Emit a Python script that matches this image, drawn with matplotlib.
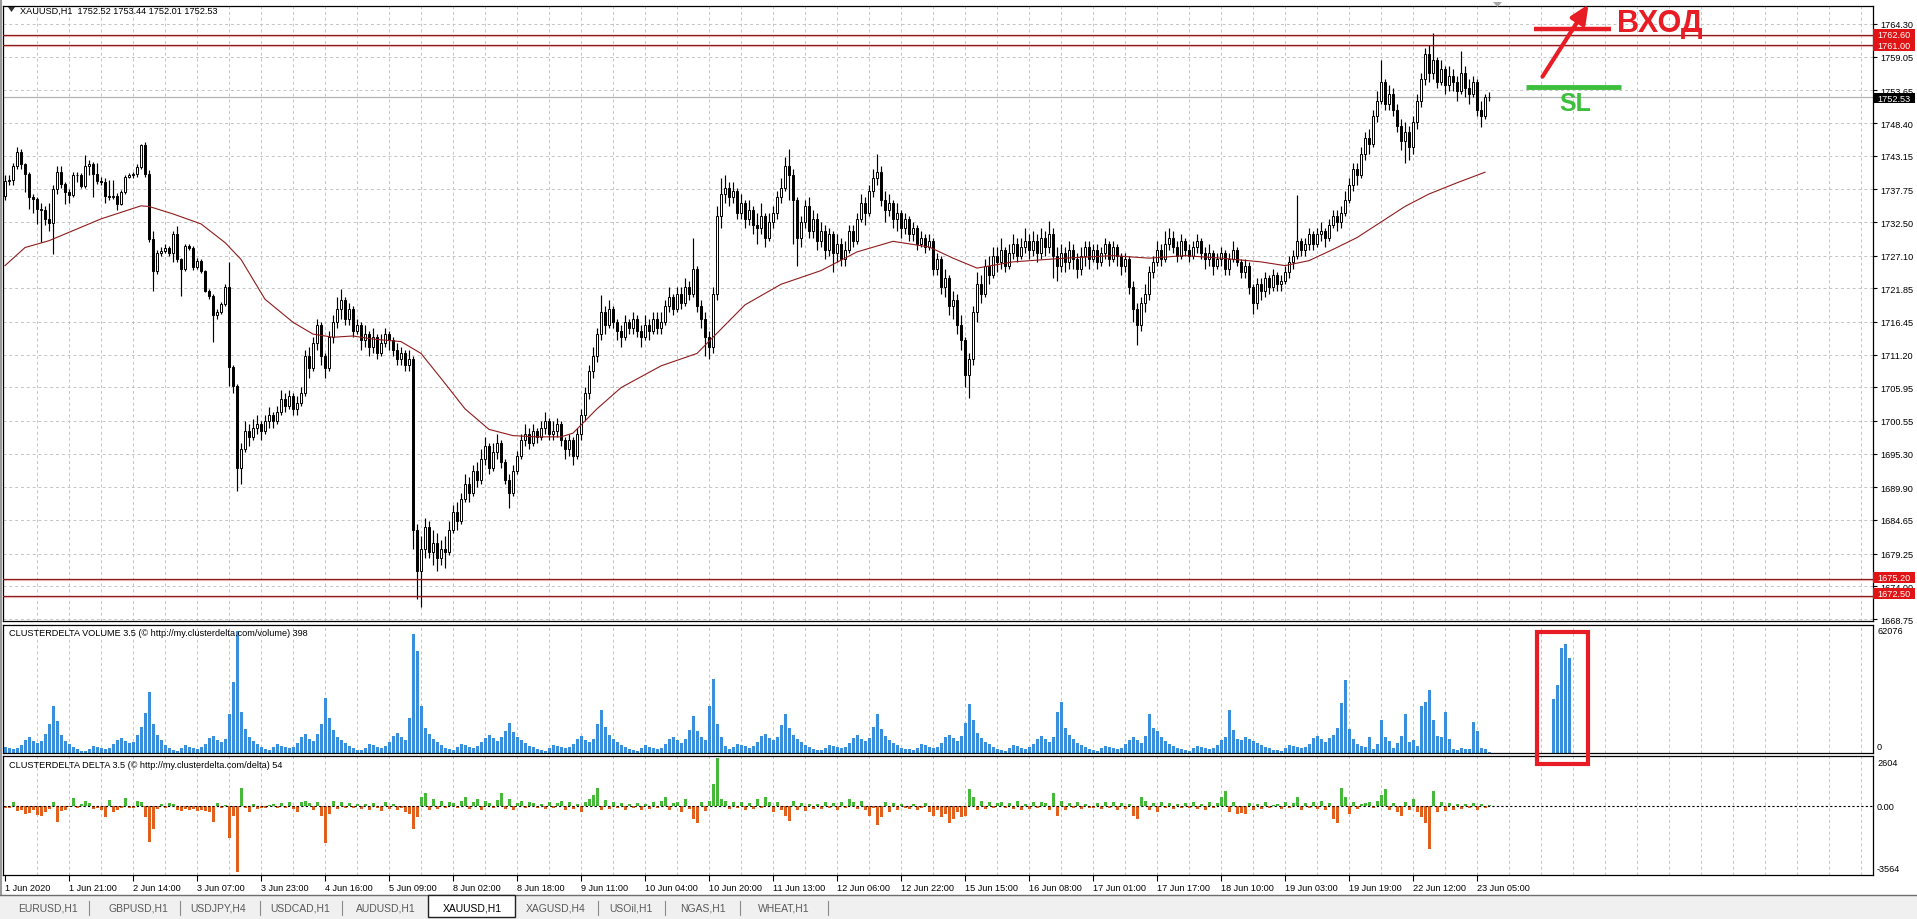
import numpy as np
import matplotlib.pyplot as plt
from matplotlib.patches import Rectangle, FancyArrowPatch, Polygon
from matplotlib.lines import Line2D

plt.rcParams['font.family'] = ['Liberation Sans', 'DejaVu Sans']

# ---------------- data (XAUUSD H1, 1 Jun 2020 - 23 Jun 2020) ----------------
open0 = 1736.7
closes = [
    1739.1, 1739.3, 1741.5, 1743.7, 1741.8, 1740.2, 1736.5, 1736.2, 1734.6, 1734.5, 1733.0, 1732.4, 1737.8, 1740.5, 1738.6, 1737.3,
    1736.8, 1740.0, 1740.0, 1738.3, 1741.5, 1741.8, 1740.2, 1739.1, 1738.9, 1736.7, 1736.5, 1736.7, 1735.4, 1737.3, 1739.7, 1740.0,
    1740.2, 1741.3, 1744.8, 1740.2, 1729.8, 1724.7, 1727.6, 1727.9, 1728.4, 1727.6, 1730.6, 1726.5, 1724.9, 1728.7, 1728.4, 1725.2,
    1726.3, 1724.7, 1721.5, 1720.7, 1717.5, 1718.0, 1719.3, 1722.0, 1709.2, 1706.2, 1693.0, 1696.0, 1699.0, 1698.0, 1699.5, 1700.0,
    1699.0, 1700.5, 1701.5, 1700.5, 1702.0, 1704.0, 1703.0, 1704.5, 1702.5, 1703.5, 1705.0, 1711.0, 1709.0, 1713.0, 1716.0, 1711.0,
    1709.0, 1714.0, 1716.5, 1718.5, 1720.0, 1717.0, 1718.5, 1715.0, 1716.0, 1713.5, 1714.5, 1712.5, 1714.0, 1711.5, 1713.0, 1714.5,
    1713.5, 1712.0, 1710.5, 1711.5, 1709.5, 1710.5, 1683.0, 1676.5, 1680.0, 1683.5, 1679.5, 1681.0, 1678.5, 1680.0, 1679.5, 1683.0,
    1686.0, 1684.5, 1688.0, 1690.5, 1689.0, 1692.5, 1691.0, 1694.5, 1696.5, 1693.0, 1695.5, 1697.0, 1694.0, 1691.0, 1689.0, 1692.5,
    1695.0, 1697.5, 1698.5, 1697.0, 1699.0, 1698.0, 1699.5, 1700.5, 1698.5, 1699.0, 1700.0, 1697.5, 1696.0, 1697.5, 1695.0, 1698.5,
    1701.5, 1705.0, 1708.5, 1711.0, 1714.5, 1718.0, 1716.0, 1718.5, 1716.5, 1715.0, 1714.0, 1716.5, 1715.5, 1717.0, 1715.0, 1714.0,
    1716.0, 1715.0, 1717.0, 1715.5, 1716.5, 1719.0, 1720.5, 1718.5, 1721.0, 1719.5, 1722.0, 1721.0, 1725.0, 1719.0, 1717.0, 1714.0,
    1712.5, 1721.0, 1733.5, 1737.0, 1738.0, 1736.5, 1737.5, 1734.0, 1735.5, 1733.0, 1734.5, 1732.0, 1731.5, 1733.5, 1730.0, 1732.5,
    1734.0, 1736.5, 1738.0, 1741.5, 1740.0, 1736.0, 1730.0, 1732.5, 1735.0, 1731.0, 1733.0, 1729.5, 1731.0, 1728.0, 1730.5, 1727.5,
    1729.0, 1726.5, 1728.0, 1731.0, 1729.5, 1733.0, 1735.5, 1734.0, 1737.5, 1739.5, 1740.5, 1736.0, 1734.5, 1735.5, 1733.0, 1734.0,
    1731.5, 1733.0, 1730.5, 1731.5, 1729.0, 1730.0, 1728.5, 1729.5, 1725.0, 1726.5, 1722.0, 1723.5, 1719.0, 1720.0, 1716.0, 1713.5,
    1708.0, 1710.5, 1718.0, 1722.5, 1721.0, 1725.5, 1724.0, 1727.0, 1726.0, 1728.0, 1725.5, 1727.5, 1729.0, 1727.0, 1728.5, 1729.5,
    1728.0, 1729.5, 1727.5, 1730.0, 1728.5, 1730.5, 1727.0, 1725.5, 1727.5, 1726.0, 1728.0, 1726.5, 1725.0, 1727.0, 1728.5, 1726.5,
    1728.0, 1726.0, 1727.5, 1729.0, 1726.5, 1728.5, 1727.0, 1725.5, 1726.5, 1722.0, 1718.5, 1716.0, 1719.5, 1721.0, 1724.5, 1726.0,
    1728.0, 1726.5, 1729.0, 1730.0, 1728.5, 1727.0, 1729.5, 1728.0, 1727.0, 1728.5, 1729.5, 1727.5, 1726.5, 1727.5, 1725.5, 1726.5,
    1727.5, 1725.0, 1726.5, 1728.0, 1726.0, 1724.5, 1725.5, 1722.0, 1719.5, 1722.5, 1721.5, 1723.5, 1722.0, 1724.0, 1722.5, 1723.0,
    1724.5, 1726.0, 1727.0, 1729.5, 1728.0, 1729.0, 1730.5, 1729.0, 1730.5, 1731.0, 1730.0, 1732.0, 1733.5, 1732.5, 1734.0, 1736.0,
    1738.5, 1741.0, 1740.0, 1743.5, 1746.0, 1745.0, 1749.5, 1752.0, 1755.0, 1751.5, 1753.0, 1750.5, 1748.0, 1745.5, 1747.0, 1744.5,
    1748.5, 1752.0, 1755.5, 1759.5, 1756.5, 1758.5, 1755.0, 1757.0, 1754.5, 1756.0, 1755.0, 1753.5, 1756.5, 1754.0, 1753.0, 1755.0,
    1750.5, 1749.5, 1752.52, 1752.53,
]
highs = [
    1740.0, 1740.0, 1742.0, 1744.5, 1744.3, 1742.0, 1740.5, 1737.0, 1736.5, 1735.5, 1735.0, 1735.5, 1738.5, 1741.5, 1741.5, 1739.0,
    1737.8, 1740.5, 1740.5, 1740.3, 1743.2, 1742.5, 1742.2, 1742.0, 1739.8, 1739.5, 1739.3, 1739.2, 1737.2, 1737.6, 1740.0, 1740.3,
    1740.6, 1741.8, 1745.0, 1745.3, 1740.8, 1731.1, 1728.0, 1728.5, 1729.0, 1728.6, 1731.0, 1731.9, 1726.8, 1729.0, 1729.0, 1728.6,
    1726.8, 1726.5, 1724.8, 1721.8, 1720.9, 1718.5, 1719.6, 1722.5, 1726.0, 1709.5, 1706.5, 1697.0, 1700.5, 1700.0, 1700.8, 1701.5,
    1700.5, 1701.5, 1702.8, 1702.0, 1703.0, 1705.5, 1705.0, 1705.5, 1705.0, 1704.5, 1706.0, 1712.0, 1712.5, 1714.0, 1717.0, 1716.5,
    1711.5, 1715.0, 1717.5, 1720.5, 1721.7, 1720.5, 1719.5, 1719.0, 1717.0, 1716.5, 1716.0, 1715.0, 1715.5, 1714.5, 1714.5, 1715.5,
    1715.0, 1714.0, 1713.0, 1712.5, 1712.0, 1712.0, 1711.0, 1684.0, 1682.0, 1685.0, 1684.5, 1683.0, 1682.5, 1681.5, 1682.0, 1684.5,
    1687.0, 1687.5, 1689.0, 1692.0, 1691.5, 1693.5, 1694.0, 1696.0, 1698.0, 1697.0, 1697.0, 1698.5, 1697.5, 1694.5, 1692.0, 1693.5,
    1695.8, 1698.5, 1700.0, 1699.5, 1700.0, 1699.5, 1700.5, 1702.0, 1701.0, 1700.5, 1701.0, 1700.5, 1698.0, 1698.5, 1698.0, 1699.5,
    1702.5, 1706.0, 1709.5, 1712.5, 1715.5, 1720.8, 1719.0, 1720.0, 1719.0, 1717.0, 1716.0, 1717.5, 1717.0, 1718.0, 1717.5, 1716.0,
    1717.5, 1717.0, 1718.0, 1718.0, 1718.0, 1720.0, 1722.0, 1721.0, 1722.0, 1722.0, 1723.5, 1723.0, 1730.0, 1725.5, 1720.0, 1718.0,
    1715.0, 1722.0, 1735.0, 1739.5, 1740.0, 1739.0, 1739.0, 1738.0, 1737.0, 1736.0, 1736.0, 1735.0, 1734.0, 1735.5, 1734.0, 1734.0,
    1735.0, 1737.5, 1739.5, 1743.0, 1744.3, 1741.0, 1736.5, 1733.5, 1736.0, 1736.5, 1734.5, 1734.0, 1732.5, 1732.0, 1731.5, 1731.0,
    1730.5, 1730.0, 1729.5, 1732.0, 1732.0, 1734.0, 1737.0, 1736.5, 1738.5, 1741.0, 1743.4, 1741.5, 1737.5, 1737.0, 1736.0, 1735.5,
    1734.5, 1734.0, 1733.5, 1732.5, 1732.0, 1731.0, 1730.5, 1730.5, 1730.0, 1727.5, 1727.0, 1725.0, 1724.0, 1721.5, 1721.0, 1717.5,
    1714.0, 1711.5, 1719.0, 1724.5, 1724.0, 1726.5, 1727.0, 1728.5, 1728.5, 1730.0, 1728.5, 1729.0, 1730.5, 1730.0, 1730.0, 1731.5,
    1730.5, 1731.0, 1730.5, 1731.5, 1731.0, 1732.6, 1731.5, 1728.5, 1729.0, 1728.5, 1729.5, 1729.0, 1727.5, 1728.5, 1729.5, 1729.5,
    1729.0, 1729.0, 1728.5, 1730.0, 1729.5, 1729.5, 1729.0, 1727.5, 1727.5, 1727.0, 1723.0, 1719.5, 1720.5, 1722.5, 1725.5, 1727.0,
    1729.5, 1729.0, 1731.0, 1731.5, 1731.0, 1729.5, 1730.5, 1730.0, 1729.0, 1729.5, 1730.5, 1730.0, 1728.5, 1729.0, 1728.0, 1727.5,
    1728.5, 1728.0, 1727.5, 1729.5, 1728.5, 1726.5, 1726.5, 1726.0, 1722.5, 1723.5, 1723.5, 1724.5, 1724.0, 1725.0, 1724.5, 1724.0,
    1725.5, 1727.0, 1728.0, 1736.9, 1730.0, 1730.0, 1731.5, 1731.0, 1731.5, 1732.5, 1731.5, 1733.0, 1734.5, 1734.5, 1735.0, 1737.5,
    1739.5, 1742.0, 1742.0, 1744.5, 1747.0, 1747.5, 1750.5, 1753.5, 1758.5, 1755.5, 1754.5, 1754.0, 1751.5, 1749.0, 1748.5, 1748.0,
    1749.5, 1753.0, 1756.5, 1760.5, 1761.0, 1762.8, 1759.0, 1758.5, 1757.5, 1757.5, 1757.0, 1756.0, 1760.0, 1757.5, 1755.5, 1756.0,
    1755.5, 1752.0, 1753.0, 1753.44,
]
lows = [
    1736.0, 1738.5, 1738.5, 1741.0, 1741.0, 1737.3, 1734.6, 1734.0, 1732.2, 1729.3, 1732.0, 1731.0, 1727.4, 1737.0, 1738.0, 1735.4,
    1735.5, 1736.5, 1739.0, 1738.0, 1738.0, 1740.0, 1736.5, 1738.6, 1738.5, 1735.6, 1736.0, 1736.2, 1734.5, 1735.2, 1737.0, 1739.5,
    1739.6, 1739.8, 1741.0, 1739.8, 1729.3, 1721.5, 1724.2, 1727.0, 1727.5, 1727.0, 1726.0, 1726.0, 1720.7, 1724.7, 1728.0, 1724.8,
    1725.0, 1724.3, 1721.2, 1720.2, 1713.2, 1717.0, 1717.8, 1719.0, 1706.2, 1705.0, 1689.3, 1690.5, 1695.5, 1696.5, 1697.5, 1698.5,
    1697.5, 1698.5, 1699.5, 1699.5, 1700.0, 1701.5, 1702.0, 1702.5, 1701.5, 1701.5, 1703.0, 1704.5, 1707.5, 1708.5, 1712.0, 1709.5,
    1707.5, 1708.5, 1713.0, 1715.5, 1717.0, 1716.0, 1716.0, 1714.0, 1714.5, 1712.0, 1712.5, 1711.0, 1711.5, 1710.5, 1711.0, 1712.5,
    1712.0, 1711.0, 1709.5, 1709.5, 1708.5, 1708.5, 1680.0, 1672.0, 1670.6, 1678.5, 1678.5, 1677.5, 1676.5, 1677.5, 1677.0, 1679.0,
    1682.5, 1683.0, 1684.0, 1687.5, 1687.5, 1688.5, 1690.0, 1690.5, 1693.5, 1692.0, 1692.5, 1694.5, 1693.0, 1690.5, 1686.5, 1688.5,
    1692.0, 1694.5, 1696.5, 1696.0, 1696.5, 1697.0, 1697.5, 1698.5, 1697.5, 1697.5, 1698.0, 1696.5, 1694.5, 1695.0, 1693.5, 1694.5,
    1697.5, 1700.5, 1704.0, 1707.5, 1710.0, 1713.5, 1714.5, 1715.5, 1715.5, 1713.5, 1712.5, 1713.5, 1714.5, 1714.5, 1714.0, 1712.5,
    1713.5, 1713.5, 1714.5, 1714.5, 1714.5, 1716.0, 1718.0, 1717.5, 1718.0, 1718.5, 1719.0, 1720.0, 1720.5, 1718.0, 1715.5, 1711.0,
    1710.5, 1711.5, 1720.0, 1731.5, 1735.5, 1735.0, 1735.5, 1733.0, 1733.0, 1731.5, 1732.0, 1730.5, 1729.0, 1730.5, 1728.5, 1729.5,
    1731.5, 1733.0, 1735.5, 1737.5, 1736.0, 1729.0, 1725.5, 1728.5, 1731.5, 1730.0, 1730.0, 1728.0, 1728.5, 1726.5, 1727.0, 1724.5,
    1726.0, 1725.5, 1725.5, 1727.5, 1728.5, 1729.0, 1732.5, 1732.0, 1733.5, 1736.5, 1738.5, 1735.0, 1732.5, 1733.5, 1731.5, 1731.0,
    1730.0, 1730.5, 1729.5, 1729.5, 1728.0, 1728.5, 1727.5, 1728.0, 1724.0, 1724.0, 1721.0, 1720.5, 1717.5, 1717.0, 1714.5, 1712.0,
    1706.0, 1704.3, 1709.5, 1716.5, 1719.5, 1720.5, 1722.5, 1723.5, 1724.5, 1725.0, 1724.5, 1725.0, 1726.5, 1726.0, 1726.5, 1727.5,
    1726.5, 1727.0, 1726.0, 1726.5, 1727.0, 1727.5, 1723.5, 1723.0, 1724.5, 1724.5, 1725.0, 1725.0, 1723.5, 1724.0, 1725.5, 1725.0,
    1726.0, 1725.0, 1725.5, 1726.5, 1725.5, 1726.0, 1725.5, 1724.0, 1724.5, 1721.0, 1716.5, 1712.7, 1715.0, 1718.0, 1720.0, 1723.5,
    1725.5, 1725.5, 1726.0, 1728.0, 1727.5, 1726.0, 1726.5, 1727.0, 1726.0, 1726.5, 1727.5, 1726.5, 1725.0, 1725.5, 1724.0, 1725.0,
    1725.5, 1724.0, 1724.0, 1726.0, 1725.5, 1723.5, 1723.5, 1721.0, 1717.7, 1718.5, 1720.0, 1720.5, 1721.0, 1721.5, 1721.5, 1721.5,
    1722.5, 1723.5, 1725.0, 1726.5, 1727.0, 1727.0, 1728.0, 1728.0, 1728.5, 1729.5, 1728.5, 1729.5, 1731.5, 1731.0, 1731.5, 1733.5,
    1735.5, 1737.5, 1738.5, 1739.5, 1742.5, 1743.5, 1744.5, 1748.5, 1751.5, 1750.5, 1750.5, 1749.5, 1747.0, 1744.0, 1742.0, 1742.5,
    1743.5, 1747.5, 1751.0, 1754.5, 1755.0, 1755.5, 1754.0, 1754.5, 1753.0, 1753.5, 1753.5, 1752.0, 1753.0, 1752.5, 1751.5, 1752.5,
    1749.5, 1747.7, 1749.0, 1752.01,
]

# moving average line, read at a set of bars
ma_bars = [0, 5, 11, 24, 34, 36, 42, 49, 55, 59, 65, 72, 77, 82, 87, 92, 99, 104, 109, 115, 121, 127,
           133, 139, 142, 148, 154, 164, 173, 179, 185, 194, 204, 213, 222, 231, 237, 243, 252, 265,
           277, 286, 295, 304, 314, 320, 326, 332, 338, 344, 350, 356, 363, 370]
ma_vals = [1725.5, 1728.4, 1729.5, 1733.0, 1735.1, 1735.0, 1733.8, 1732.2, 1729.2, 1726.5, 1720.1,
           1716.4, 1714.5, 1714.0, 1714.2, 1713.7, 1713.3, 1711.4, 1707.4, 1702.5, 1699.2, 1698.2,
           1698.0, 1698.0, 1698.6, 1702.5, 1705.9, 1709.4, 1711.4, 1715.3, 1719.2, 1722.5, 1724.7,
           1727.7, 1729.4, 1728.5, 1726.7, 1725.1, 1726.1, 1726.7, 1727.1, 1726.7, 1727.1, 1726.7,
           1726.1, 1725.5, 1726.3, 1728.1, 1730.0, 1732.5, 1735.0, 1737.0, 1738.8, 1740.5]

# cluster volume, thousands (one line per trading day)
volume_k = [
    3.0, 2.4, 2.0, 2.6, 4.2, 6.5, 8.0, 6.1, 5.2, 6.0, 9.5, 15.0, 24.0, 16.5, 9.0, 6.2, 4.8, 3.1, 2.0,
    1.2, 1.0, 2.2, 3.8, 3.1, 2.6, 2.0, 2.4, 4.4, 6.8, 7.6, 6.2, 5.1, 5.8, 9.0, 13.5, 20.5, 31.0, 15.0, 9.2, 6.5, 4.1, 2.8,
    1.5, 1.1, 2.6, 4.1, 3.3, 2.8, 2.2, 2.9, 4.8, 7.5, 8.8, 6.6, 5.4, 6.9, 20.0, 36.0, 62.076, 21.0, 12.0, 8.4, 6.2, 4.5, 3.2,
    1.8, 1.3, 2.9, 4.4, 3.6, 2.9, 2.4, 3.1, 5.1, 8.2, 9.6, 7.3, 6.0, 9.5, 15.0, 28.0, 18.0, 11.5, 8.3, 6.4, 5.0, 3.6, 2.4,
    1.6, 1.4, 2.7, 4.6, 3.9, 3.2, 2.6, 3.4, 5.6, 8.8, 10.2, 8.0, 6.5, 18.0, 60.5, 52.0, 24.0, 13.0, 9.6, 7.2, 5.5, 4.0, 2.6,
    2.2, 1.6, 3.0, 4.8, 4.0, 3.3, 2.7, 3.5, 5.4, 7.9, 9.1, 7.5, 6.1, 8.4, 11.0, 15.5, 10.5, 8.2, 6.6, 5.0, 3.8, 2.9, 1.9,
    1.4, 1.2, 2.5, 4.0, 3.5, 2.9, 2.3, 3.0, 4.6, 7.1, 8.6, 6.8, 5.6, 7.2, 15.0, 22.0, 13.5, 9.0, 7.0, 5.4, 4.2, 3.1, 2.1,
    1.5, 1.2, 2.4, 3.9, 3.2, 2.8, 2.1, 2.8, 4.5, 6.9, 8.3, 6.5, 5.3, 7.0, 11.5, 19.0, 11.0, 8.0, 6.8, 24.0, 38.0, 15.0, 8.0,
    3.5, 2.2, 3.1, 4.6, 4.0, 3.4, 2.8, 3.6, 5.8, 8.5, 9.8, 7.9, 6.4, 8.1, 14.5, 20.0, 13.0, 9.4, 7.3, 5.6, 4.3, 3.3, 2.2,
    1.6, 1.3, 2.6, 4.2, 3.6, 3.0, 2.4, 3.2, 5.0, 7.6, 9.0, 7.2, 5.9, 7.4, 13.5, 20.0, 12.0, 8.6, 6.7, 5.1, 3.9, 2.8, 1.8,
    1.9, 1.4, 2.8, 4.7, 3.9, 3.3, 2.6, 3.3, 5.3, 8.0, 9.4, 7.6, 6.2, 8.6, 15.5, 25.0, 17.0, 10.2, 7.6, 5.8, 4.4, 3.2, 2.1,
    1.5, 1.2, 2.5, 4.0, 3.4, 2.8, 2.2, 3.0, 4.7, 7.3, 8.7, 7.0, 5.7, 8.0, 21.0, 26.0, 12.5, 9.0, 7.0, 5.3, 4.1, 3.0, 2.0,
    1.4, 1.1, 2.4, 3.8, 3.2, 2.7, 2.1, 2.8, 4.4, 6.8, 8.1, 6.4, 5.2, 8.5, 20.0, 13.0, 11.0, 8.0, 6.2, 4.8, 3.6, 2.7, 1.8,
    1.3, 1.1, 2.3, 3.7, 3.1, 2.6, 2.0, 2.7, 4.3, 6.6, 8.0, 22.0, 11.5, 7.2, 6.5, 8.0, 7.0, 6.0, 5.2, 4.1, 3.2, 2.4, 1.6,
    1.5, 1.2, 2.6, 4.1, 3.5, 2.9, 2.3, 3.1, 4.8, 7.4, 8.9, 7.1, 5.8, 7.6, 9.0, 12.5, 25.5, 37.0, 12.0, 7.0, 4.6, 3.7, 3.2,
    8.3, 2.0, 4.6, 16.8, 8.3, 6.3, 2.7, 5.1, 8.8, 20.0, 5.4, 6.6, 3.7, 24.0, 26.0, 32.0, 17.0, 8.8, 8.3, 20.7, 7.0, 2.0, 1.5,
    2.5, 1.8, 1.8, 15.6, 11.4, 2.5, 2.0, 0.398,
]

# cluster delta (one line per trading day)
delta = [
    -100, -80, 230, -270, -200, -420, -380, -200, -480, -500, -320, -150, 250, -850, -250, -220, -60, 450, -120,
    100, 300, 150, -150, -100, -200, -600, 350, -300, -200, -100, 450, -100, -80, 300, 200, -600, -1900, -1200, -150, 120, -100, 150,
    100, -200, -250, -150, -200, -150, -250, -200, -250, -300, -850, 150, -100, 80, -1700, -500, -3564, 1000, -100, -300, 100, -150, -100,
    -100, 50, 100, -80, 150, -100, 200, -150, -300, 250, 300, 150, -200, 250, -500, -2000, -400, 300, -150, 200, -100, 150, -80,
    120, -150, 100, -200, 150, -100, -250, 200, -150, 100, -200, -100, -300, -400, -1200, -600, 500, 700, -200, 400, -150, 300, -100,
    200, 150, -100, 300, 500, -150, 250, 400, -200, 300, 150, -100, 350, 700, -150, 400, -200, 150, 300, -100, 200, 150, -80,
    100, -150, 200, -100, 150, 300, -200, 250, -150, 100, -300, 200, 400, 600, 1000, -200, 350, -150, 200, -100, 150, -200, 100,
    -100, 150, -200, 100, -150, 200, -100, 300, 500, -200, 150, 250, -300, 400, -150, -700, -900, 200, -250, 300, 1200, 2604, 400,
    300, -150, 200, -100, 250, -200, 150, -150, 400, -100, 500, 200, -300, 250, -200, -500, -800, 300, -200, 150, -250, 100, -150,
    100, -150, 200, -100, 150, -200, 250, -100, 400, 200, -150, 300, -200, -500, -100, -1000, -600, 250, -300, 150, -200, 100, -100,
    -150, 100, -200, -100, 150, -300, -500, -200, -600, -400, -900, -700, -300, -600, -500, 900, 500, -200, 300, -150, 250, -100, 150,
    200, -100, 150, -150, 300, -200, 100, -150, 250, -100, 200, 150, -200, 700, -500, 300, -200, 150, -100, 200, -150, 100, -80,
    -100, 150, -150, 200, -100, 250, -200, 150, -150, 100, -500, -700, 500, 300, -200, 150, -300, 200, -100, 150, -150, 100, -100,
    150, -100, 200, -150, 100, -200, 250, -100, 150, 500, 800, -300, 200, -400, -350, -400, 150, -200, 100, -150, 200, -100, 80,
    100, -150, 200, -100, 150, 500, -200, 150, -100, 200, -150, 300, -200, 150, -700, -900, 1000, 500, -400, 200, -150, 100, 150,
    200, -100, 300, 600, 900, -200, 150, -300, -500, 200, -200, 400, -300, -600, -900, -2300, 800, -300, 200, -250, 150, -200, 100,
    -150, 100, -100, 150, -200, 100, -80, 54,
]

# volume bars pasted inside the red frame (to the right of the data)
box_bars = [387, 388, 389, 390, 391]
box_vol_k = [27.5, 34.7, 53.4, 55.6, 48.3]

price_ticks = [1764.30, 1759.05, 1753.65, 1748.40, 1743.15, 1737.75, 1732.50, 1727.10, 1721.85,
               1716.45, 1711.20, 1705.95, 1700.55, 1695.30, 1689.90, 1684.65, 1679.25, 1674.00, 1668.75]
time_labels = ['1 Jun 2020', '1 Jun 21:00', '2 Jun 14:00', '3 Jun 07:00', '3 Jun 23:00', '4 Jun 16:00',
               '5 Jun 09:00', '8 Jun 02:00', '8 Jun 18:00', '9 Jun 11:00', '10 Jun 04:00', '10 Jun 20:00',
               '11 Jun 13:00', '12 Jun 06:00', '12 Jun 22:00', '15 Jun 15:00', '16 Jun 08:00', '17 Jun 01:00',
               '17 Jun 17:00', '18 Jun 10:00', '19 Jun 03:00', '19 Jun 19:00', '22 Jun 12:00', '23 Jun 05:00']
levels = [1762.60, 1761.00, 1675.20, 1672.50]
last_price = 1752.53
tabs = ['EURUSD,H1', 'GBPUSD,H1', 'USDJPY,H4', 'USDCAD,H1', 'AUDUSD,H1', 'XAUUSD,H1',
        'XAGUSD,H4', 'USOil,H1', 'NGAS,H1', 'WHEAT,H1']
tab_x = [48, 138, 218, 300, 386, 472, 556, 631, 703, 784]
tab_sep = [89, 180, 260, 342, 598, 665, 740, 828]

# ---------------- figure ----------------
W, H = 1917, 920
fig = plt.figure(figsize=(W / 100, H / 100), dpi=100)
fig.patch.set_facecolor('white')


def fx(x):
    return x / W


def fy(y):
    return 1 - y / H


def add_ax(x0, y0, x1, y1):
    a = fig.add_axes([fx(x0), fy(y1), (x1 - x0) / W, (y1 - y0) / H])
    for s in a.spines.values():
        s.set_linewidth(0.9)
        s.set_color('black')
    a.set_xlim(-0.5, 467)
    return a


def vgrid(a):
    for g in range(8, 468, 8):
        a.axvline(g, color='#c4c4c4', lw=0.7, ls=(0, (3, 3)), zorder=0)


RED = '#e81c24'
GREEN = '#3dbf3d'

# ---- price panel ----
ax = add_ax(3, 7, 1873, 622)
ax.set_ylim(1668.43, 1767.19)
vgrid(ax)
for p in price_ticks:
    ax.axhline(p, color='#c4c4c4', lw=0.7, ls=(0, (3, 3)), zorder=0)
ax.set_xticks([])
ax.yaxis.tick_right()
ax.set_yticks(price_ticks)
ax.set_yticklabels(['%.2f' % p for p in price_ticks])
ax.tick_params(axis='y', length=3, width=0.8, pad=2, labelsize=6.6)

c = np.array(closes)
o = np.array([open0] + closes[:-1])
hi = np.maximum(np.array(highs), np.maximum(o, c))
lo = np.minimum(np.array(lows), np.minimum(o, c))
idx = np.arange(len(c))
up = c >= o
bot = np.minimum(o, c)
hgt = np.maximum(np.abs(c - o), 0.12)
ax.vlines(idx, lo, hi, color='black', lw=0.85, zorder=2)
ax.bar(idx[up], hgt[up], bottom=bot[up], width=0.62, color='white', edgecolor='black', lw=0.7, zorder=3)
ax.bar(idx[~up], hgt[~up], bottom=bot[~up], width=0.62, color='black', edgecolor='black', lw=0.7, zorder=3)

ax.plot(ma_bars, ma_vals, color='#8e1c1c', lw=0.8, zorder=4)
for p in levels:
    ax.axhline(p - 0.2, color='#f5c6c6', lw=1.6, zorder=1)
    ax.axhline(p, color='#8c1b1b', lw=0.9, zorder=4)
ax.axhline(last_price, color='#b4b4b4', lw=0.9, zorder=1)

# ---- volume panel ----
axv = add_ax(3, 626, 1873, 754)
axv.set_ylim(0, 65300)
vgrid(axv)
axv.set_xticks([])
axv.set_yticks([])
axv.bar(np.arange(len(volume_k)), np.array(volume_k) * 1000, width=0.75, color='#3a8fdc', lw=0, zorder=2)
axv.bar(box_bars, np.array(box_vol_k) * 1000, width=0.75, color='#3a8fdc', lw=0, zorder=2)

# ---- delta panel ----
axd = add_ax(3, 757, 1873, 876)
axd.set_ylim(-3700, 2700)
vgrid(axd)
d = np.array(delta)
di = np.arange(len(d))
axd.bar(di[d >= 0], d[d >= 0], width=0.75, color='#46b83a', lw=0, zorder=2)
axd.bar(di[d < 0], d[d < 0], width=0.75, color='#e2601e', lw=0, zorder=2)
axd.axhline(0, color='black', lw=0.8, ls=(0, (2, 2)), zorder=3)
axd.set_yticks([])
axd.set_xticks(np.arange(0, 369, 16))
axd.set_xticklabels(time_labels, ha='left', fontsize=6.6)
axd.tick_params(axis='x', direction='out', length=4, width=0.8, pad=2)


# ---- texts / labels ----
def ftext(x, y, s, **kw):
    kw.setdefault('fontsize', 6.6)
    kw.setdefault('va', 'center')
    return fig.text(fx(x), fy(y), s, **kw)


fig.add_artist(Polygon([(fx(8), fy(8)), (fx(15), fy(8)), (fx(11.5), fy(13))], closed=True,
                       transform=fig.transFigure, facecolor='#303030', edgecolor='none'))
ftext(20, 11, 'XAUUSD,H1  1752.52 1753.44 1752.01 1752.53')
ftext(9, 634, 'CLUSTERDELTA VOLUME 3.5 (\u00a9 http://my.clusterdelta.com/volume) 398')
ftext(9, 766, 'CLUSTERDELTA DELTA 3.5 (\u00a9 http://my.clusterdelta.com/delta) 54')

ftext(1877, 632, '62076')
ftext(1877, 748, '0')
ftext(1877, 764, '2604')
ftext(1877, 808, '0.00')
ftext(1877, 870, '-3564')


def label_box(y0, y1, s, fc):
    fig.add_artist(Rectangle((fx(1873), fy(y1)), 42 / W, (y1 - y0) / H, transform=fig.transFigure,
                             facecolor=fc, edgecolor='none', zorder=5))
    ftext(1877, (y0 + y1) / 2, s, color='white', zorder=6)


label_box(30, 41, '1762.60', '#e01414')
label_box(41, 52, '1761.00', '#e01414')
label_box(94, 104, '1752.53', '#000000')
label_box(573, 584, '1675.20', '#e01414')
label_box(589, 600, '1672.50', '#e01414')

# ---- drawn annotations ----
fig.add_artist(Line2D([fx(1534), fx(1611)], [fy(30), fy(30)], transform=fig.transFigure,
                      color=RED, lw=3.2, solid_capstyle='butt', zorder=7))
fig.add_artist(FancyArrowPatch((fx(1541), fy(80)), (fx(1590), fy(3)), transform=fig.transFigure,
                               arrowstyle='-|>,head_length=11,head_width=5', color=RED, lw=3,
                               mutation_scale=1, zorder=7))
fig.add_artist(Line2D([fx(1526), fx(1621)], [fy(88), fy(88)], transform=fig.transFigure,
                      color=GREEN, lw=3.5, solid_capstyle='butt', zorder=7))
ftext(1617, 24, '\u0412\u0425\u041e\u0414', color=RED, fontsize=22, fontweight='bold', zorder=7)
ftext(1575, 104, 'SL', color=GREEN, fontsize=18, fontweight='bold', ha='center', zorder=7)
fig.add_artist(Rectangle((fx(1537), fy(765)), 51 / W, 132 / H, transform=fig.transFigure,
                         fill=False, edgecolor=RED, lw=3, zorder=7))
fig.add_artist(Polygon([(fx(1493), fy(3)), (fx(1502), fy(3)), (fx(1497.5), fy(8))], closed=True,
                       transform=fig.transFigure, facecolor='#a8a8a8', edgecolor='none', zorder=7))

# ---- left border and tab bar ----
fig.add_artist(Line2D([fx(1), fx(1)], [fy(0), fy(895)], transform=fig.transFigure, color='#9a9a9a', lw=1.5))
fig.add_artist(Rectangle((0, 0), 1, fy(896), transform=fig.transFigure, facecolor='#f0f0f0',
                         edgecolor='none', zorder=1))
fig.add_artist(Line2D([0, 1], [fy(896), fy(896)], transform=fig.transFigure, color='#6e6e6e', lw=1))
fig.add_artist(Rectangle((fx(428), fy(918)), 87 / W, 22 / H, transform=fig.transFigure,
                         facecolor='white', edgecolor='#222222', lw=1, zorder=2))
for sx in tab_sep:
    fig.add_artist(Line2D([fx(sx), fx(sx)], [fy(902), fy(916)], transform=fig.transFigure,
                          color='#8a8a8a', lw=0.8, zorder=2))
for name, tx in zip(tabs, tab_x):
    ftext(tx, 909, name, ha='center', fontsize=7.5,
          color='black' if name == 'XAUUSD,H1' else '#5a5a5a', zorder=3)

fig.savefig('out.png', dpi=100, facecolor='white')
